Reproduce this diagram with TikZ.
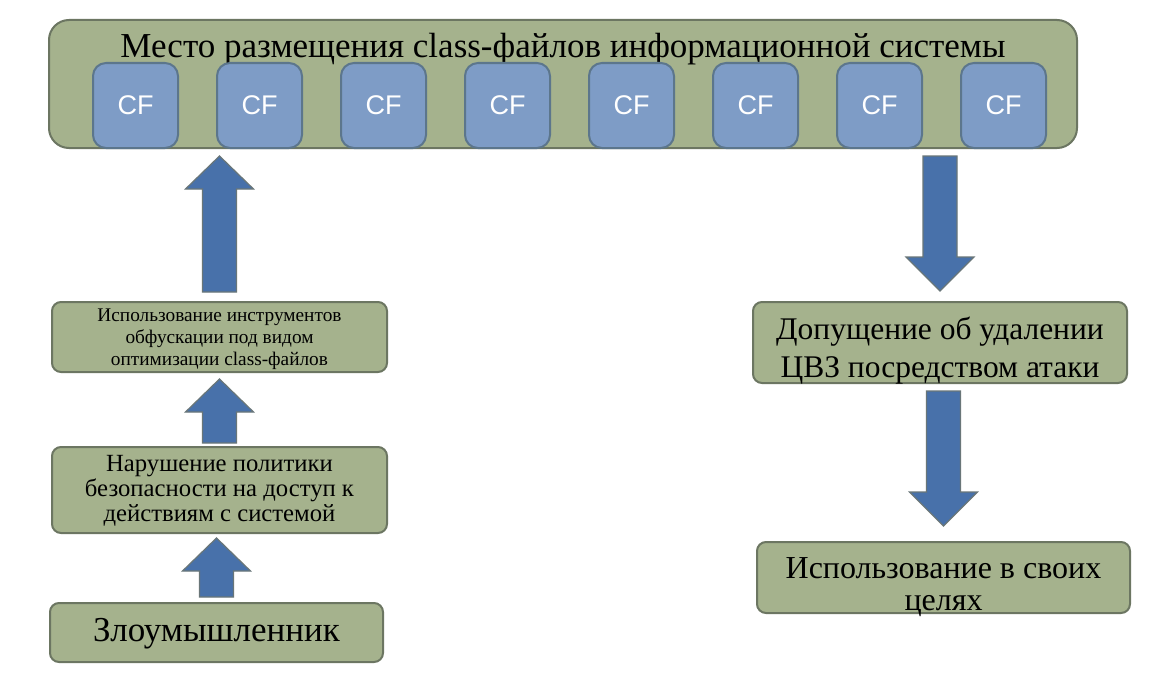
\documentclass[tikz,border=0pt]{standalone}
\usepackage{fontspec}
\setmainfont{Liberation Serif}
\newfontfamily\cfsans{Liberation Sans}
\usetikzlibrary{calc}

\definecolor{olivefill}{RGB}{165,178,141}
\definecolor{olivedraw}{RGB}{108,118,98}
\definecolor{cffill}{RGB}{126,156,198}
\definecolor{cfdraw}{RGB}{92,118,140}
\definecolor{arrowfill}{RGB}{72,113,170}
\definecolor{arrowdraw}{RGB}{105,118,120}

% block arrow pointing up: from node #1 (below) to node #2 (above);
% #3 = gap at the tail, #4 = gap at the tip
\newcommand\blockup[4]{%
  \draw[blockarrow] let \p1=(#1.north), \p2=(#2.south) in
    (\x1-17pt,\y1+#3pt) -- (\x1-17pt,\y2-#4pt-33pt) -- (\x1-34pt,\y2-#4pt-33pt)
    -- (\x1,\y2-#4pt) -- (\x1+34pt,\y2-#4pt-33pt) -- (\x1+17pt,\y2-#4pt-33pt)
    -- (\x1+17pt,\y1+#3pt) -- cycle;}
% block arrow pointing down: from node #1 (above) to node #2 (below)
\newcommand\blockdown[4]{%
  \draw[blockarrow] let \p1=(#1.south), \p2=(#2.north) in
    (\x2-17pt,\y1-#3pt) -- (\x2-17pt,\y2+#4pt+34pt) -- (\x2-34pt,\y2+#4pt+34pt)
    -- (\x2,\y2+#4pt) -- (\x2+34pt,\y2+#4pt+34pt) -- (\x2+17pt,\y2+#4pt+34pt)
    -- (\x2+17pt,\y1-#3pt) -- cycle;}

\begin{document}
\begin{tikzpicture}[x=1pt,y=-1pt,
  panel/.style={draw=olivedraw, fill=olivefill, line width=2pt,
    rounded corners=9pt, inner sep=0pt},
  caption/.style={inner sep=0pt, align=center},
  cfbox/.style={draw=cfdraw, fill=cffill, line width=2pt, rounded corners=13pt,
    minimum width=85pt, minimum height=85pt, inner sep=0pt, text=white,
    font=\cfsans\fontsize{27}{27}\selectfont},
  blockarrow/.style={draw=arrowdraw, fill=arrowfill, line width=1.2pt, line join=miter}]

\useasboundingbox (0,0) rectangle (1158,677);
\fill[white] (0,0) rectangle (1158,677);

% storage of class files
\node[panel, rounded corners=20pt, minimum width=1028pt, minimum height=128pt]
  (store) at (563,84) {};
\node[anchor=base, inner sep=0pt, font=\fontsize{35}{35}\selectfont] (title) at (563,57)
  {Место размещения class-файлов информационной системы};
\foreach \i in {0,...,7}
  \node[cfbox] (cf\i) at (135.5+124*\i,105.5) {CF};

% left chain
\node[panel, minimum width=335pt, minimum height=70pt] (obf) at (219.5,337) {};
\node[caption, font=\fontsize{19.3}{22}\selectfont] (obf text) at (219.5,339.5)
  {Использование инструментов\\обфускации под видом\\оптимизации class-файлов};
\node[panel, minimum width=335pt, minimum height=86pt] (policy) at (219.5,490) {};
\node[caption, font=\fontsize{24.7}{25}\selectfont] (policy text) at (219.5,491)
  {Нарушение политики\\безопасности на доступ к\\действиям с системой};
\node[panel, minimum width=333pt, minimum height=59pt] (intruder) at (216.5,632.5) {};
\node[caption, font=\fontsize{35}{35}\selectfont] (intruder text) at (216.5,634)
  {Злоумышленник};

% right chain
\node[panel, minimum width=374pt, minimum height=81pt] (removal) at (940,342.5) {};
\node[caption, font=\fontsize{31.5}{38}\selectfont] (removal text) at (940,351)
  {Допущение об удалении\\ЦВЗ посредством атаки};
\node[panel, minimum width=373pt, minimum height=71pt] (use) at (943.5,577.5) {};
\node[caption, font=\fontsize{32}{32}\selectfont] (use text) at (943.5,587)
  {Использование в своих\\целях};

% arrows
\blockup{intruder}{policy}{5}{4}
\blockup{policy}{obf}{3}{6}
\blockup{obf}{store}{9}{7}
\blockdown{store}{removal}{7}{10}
\blockdown{removal}{use}{7}{15}
\end{tikzpicture}
\end{document}
